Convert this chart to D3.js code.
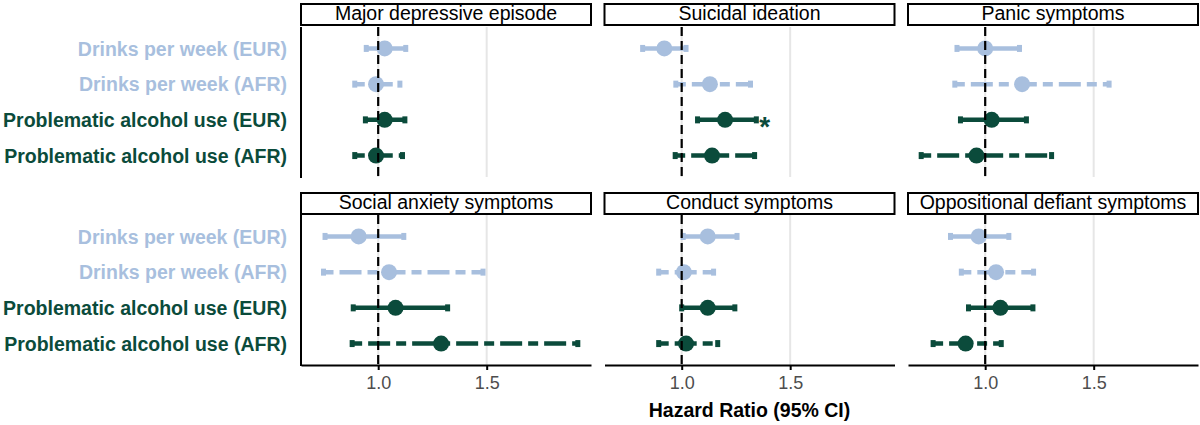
<!DOCTYPE html>
<html>
<head>
<meta charset="utf-8">
<script src="https://cdnjs.cloudflare.com/ajax/libs/d3/7.8.5/d3.min.js"></script>
<style>
    html, body { margin: 0; padding: 0; background: #fff; }
    .chart { width: 1200px; height: 425px; }
    text { font-family: 'Liberation Sans', Arial, sans-serif; }
</style>
</head>
<body>
<div class="chart"></div>
<script>
(function () {
    'use strict';

    // outcomes, in facet order (row by row)
    const outcomes = [
        'Major depressive episode',
        'Suicidal ideation',
        'Panic symptoms',
        'Social anxiety symptoms',
        'Conduct symptoms',
        'Oppositional defiant symptoms'
    ];

    const exposures = [
        'Drinks per week (EUR)',
        'Drinks per week (AFR)',
        'Problematic alcohol use (EUR)',
        'Problematic alcohol use (AFR)'
    ];

    // one array per outcome, same order as exposures
    const hazardRatio = [
        [1.03, 0.99, 1.03, 0.99],
        [0.92, 1.13, 1.20, 1.14],
        [1.00, 1.17, 1.03, 0.96],
        [0.91, 1.05, 1.08, 1.29],
        [1.12, 1.01, 1.12, 1.02],
        [0.97, 1.05, 1.07, 0.91]
    ];
    const ciLower = [
        [0.945, 0.892, 0.941, 0.892],
        [0.82, 0.973, 1.073, 0.97],
        [0.87, 0.86, 0.886, 0.705],
        [0.755, 0.748, 0.885, 0.88],
        [1.007, 0.894, 1.0, 0.894],
        [0.84, 0.89, 0.923, 0.76]
    ];
    const ciUpper = [
        [1.127, 1.10, 1.123, 1.112],
        [1.02, 1.317, 1.344, 1.336],
        [1.158, 1.571, 1.19, 1.306],
        [1.118, 1.483, 1.32, 1.92],
        [1.255, 1.147, 1.245, 1.166],
        [1.109, 1.223, 1.22, 1.074]
    ];
    const significant = [
        [false, false, false, false],
        [false, false, true, false],
        [false, false, false, false],
        [false, false, false, false],
        [false, false, false, false],
        [false, false, false, false]
    ];

    const xTicks = [1.0, 1.5];
    const xTitle = 'Hazard Ratio (95% CI)';

    const lightBlue = '#a8bfde';
    const darkGreen = '#0b4b3b';

    const colLeft = [301, 604.5, 908];
    const panelWidth = 290;
    const stripTop = [4, 193];
    const stripHeight = 21;
    const panelTop = [27, 215];
    const panelHeight = 150;

    const svg = d3.select('.chart').append('svg')
        .attr('width', 1200)
        .attr('height', 425);

    // ggplot-style 5% expansion of the data range
    const lo = d3.min(ciLower, function (d) { return d3.min(d); });
    const hi = d3.max(ciUpper, function (d) { return d3.max(d); });
    const pad = (hi - lo) * 0.05;

    const x = d3.scaleLinear()
        .domain([lo - pad, hi + pad])
        .range([0, panelWidth]);

    const y = d3.scalePoint()
        .domain(exposures)
        .range([0, panelHeight])
        .padding(0.6);

    function colorOf(name) {
        return name.indexOf('Drinks') === 0 ? lightBlue : darkGreen;
    }

    function isAfr(name) {
        return name.indexOf('(AFR)') > -1;
    }

    outcomes.forEach(function (outcome, i) {
        const row = Math.floor(i / 3);
        const col = i % 3;

        const rows = exposures.map(function (e, j) {
            return {
                'exposure': e,
                'hr': hazardRatio[i][j],
                'lo': ciLower[i][j],
                'hi': ciUpper[i][j],
                'sig': significant[i][j]
            };
        });

        // strip
        const strip = svg.append('g')
            .attr('transform', 'translate(' + colLeft[col] + ', ' + stripTop[row] + ')');
        strip.append('rect')
            .attr('width', panelWidth)
            .attr('height', stripHeight)
            .attr('fill', '#fff')
            .attr('stroke', '#000')
            .attr('stroke-width', 2);
        strip.append('text')
            .attr('x', panelWidth / 2)
            .attr('y', 16)
            .attr('text-anchor', 'middle')
            .style('font-size', '19.5px')
            .attr('fill', '#000')
            .text(outcome);

        const panel = svg.append('g')
            .attr('transform', 'translate(' + colLeft[col] + ', ' + panelTop[row] + ')');

        // grid
        panel.append('g').selectAll('line')
            .data(xTicks)
            .enter().append('line')
            .attr('x1', function (d) { return x(d); })
            .attr('x2', function (d) { return x(d); })
            .attr('y1', 0)
            .attr('y2', panelHeight)
            .attr('stroke', '#e6e6e6')
            .attr('stroke-width', 2);

        const bars = panel.append('g').selectAll('g')
            .data(rows)
            .enter().append('g')
            .attr('transform', function (d) {
                return 'translate(0, ' + y(d.exposure) + ')';
            });

        bars.append('line')
            .attr('x1', function (d) { return x(d.lo); })
            .attr('x2', function (d) { return x(d.hi); })
            .attr('stroke', function (d) { return colorOf(d.exposure); })
            .attr('stroke-width', 4.5)
            .attr('stroke-dasharray', function (d) {
                return isAfr(d.exposure) ? '10,6,22,6' : null;
            });

        bars.selectAll('.cap')
            .data(function (d) {
                return [{ 'v': d.lo, 'e': d.exposure }, { 'v': d.hi, 'e': d.exposure }];
            })
            .enter().append('line')
            .attr('class', 'cap')
            .attr('x1', function (d) { return x(d.v); })
            .attr('x2', function (d) { return x(d.v); })
            .attr('y1', -3.5)
            .attr('y2', 3.5)
            .attr('stroke', function (d) { return colorOf(d.e); })
            .attr('stroke-width', 5);

        bars.append('circle')
            .attr('cx', function (d) { return x(d.hr); })
            .attr('r', 8)
            .attr('fill', function (d) { return colorOf(d.exposure); });

        bars.filter(function (d) { return d.sig; })
            .append('text')
            .attr('x', function (d) { return x(d.hi) + 3; })
            .attr('y', 16)
            .style('font-size', '28px')
            .style('font-weight', 'bold')
            .attr('fill', function (d) { return colorOf(d.exposure); })
            .text('*');

        // reference line at HR = 1
        panel.append('line')
            .attr('x1', x(1))
            .attr('x2', x(1))
            .attr('y1', 0)
            .attr('y2', panelHeight)
            .attr('stroke', '#000')
            .attr('stroke-width', 2.2)
            .attr('stroke-dasharray', '9,5');

        if (col === 0) {
            panel.append('line')
                .attr('x1', 0)
                .attr('x2', 0)
                .attr('y1', 0)
                .attr('y2', panelHeight + 1)
                .attr('stroke', '#000')
                .attr('stroke-width', 2);

            panel.append('g').selectAll('text')
                .data(exposures)
                .enter().append('text')
                .attr('x', -14)
                .attr('y', function (d) { return y(d); })
                .attr('dy', '0.37em')
                .attr('text-anchor', 'end')
                .style('font-size', '19.5px')
                .style('font-weight', 'bold')
                .attr('fill', colorOf)
                .text(function (d) { return d; });
        }

        if (row === 1) {
            const axis = d3.axisBottom(x)
                .tickValues(xTicks)
                .tickFormat(d3.format('.1f'))
                .tickSize(5)
                .tickSizeOuter(0)
                .tickPadding(6);

            panel.append('g')
                .attr('transform', 'translate(0, ' + panelHeight + ')')
                .call(axis)
                .call(function (g) {
                    g.select('.domain').attr('stroke-width', 2).attr('stroke', '#000');
                })
                .call(function (g) {
                    g.selectAll('line').attr('stroke-width', 2).attr('stroke', '#000');
                })
                .call(function (g) {
                    g.selectAll('text')
                        .style('font-size', '18px')
                        .style('font-family', "'Liberation Sans', Arial, sans-serif")
                        .attr('fill', '#4d4d4d');
                });
        }
    });

    svg.append('text')
        .attr('x', colLeft[1] + panelWidth / 2)
        .attr('y', 417)
        .attr('text-anchor', 'middle')
        .style('font-size', '19.5px')
        .style('font-weight', 'bold')
        .attr('fill', '#000')
        .text(xTitle);
}());
</script>
</body>
</html>
